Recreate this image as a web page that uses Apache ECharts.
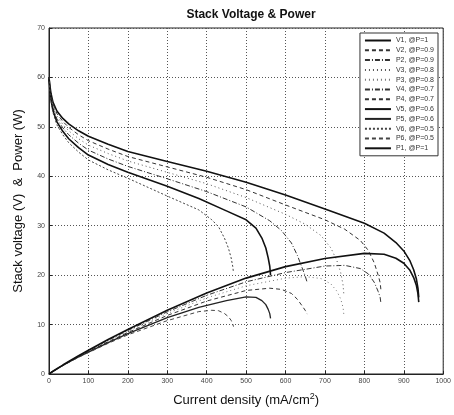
<!DOCTYPE html>
<html><head><meta charset="utf-8">
<script src="https://cdn.jsdelivr.net/npm/echarts@6/dist/echarts.min.js"></script>
<style>html,body{margin:0;padding:0;background:#fff}#c{width:454px;height:415px}</style>
</head><body><div id="c"></div>
<script>
// ---- data ----
const xTicks = [0,100,200,300,400,500,600,700,800,900,1000];
const yTicks = [0,10,20,30,40,50,60,70];

const v1x = [0,2,5,10,20,35,50,75,100,150,200,300,400,500,600,700,800,850,880,900,915,925,932,936,938];
const v1y = [60,58.5,56.8,55,53.2,51.7,50.6,49.2,48.1,46.5,45,43,41,38.8,36.2,33.4,30.5,28.5,26.6,24.9,23,21.1,19.2,17.3,15.5];
const p1y = [0,0.12,0.28,0.55,1.06,1.81,2.53,3.69,4.81,6.98,9.0,12.9,16.4,19.4,21.72,23.38,24.4,24.23,23.41,22.41,21.05,19.52,17.89,16.19,14.54];

const v2x = [0,2,5,10,20,35,50,75,100,150,200,300,400,500,600,700,750,790,810,825,835,840,842];
const v2y = [60,58.3,56.4,54.6,52.7,51.1,49.9,48.4,47.2,45.5,44,41.9,39.8,37.3,34.2,31.2,29.3,27,25,22.5,20,18.5,17];
const p2y = [0,0.12,0.28,0.55,1.05,1.79,2.5,3.63,4.72,6.83,8.8,12.57,15.92,18.65,20.52,21.84,21.98,21.33,20.25,18.56,16.7,15.54,14.31];

const v3x = [0,2,5,10,20,35,50,75,100,150,200,300,400,500,600,650,690,715,730,740,746,748];
const v3y = [60,58.1,56.1,54.2,52.2,50.5,49.2,47.6,46.3,44.6,43.1,40.8,38.5,35.7,32.3,30.3,28,25.5,23,20.5,18,16];
const p3y = [0,0.12,0.28,0.54,1.04,1.77,2.46,3.57,4.63,6.69,8.62,12.24,15.4,17.85,19.38,19.7,19.32,18.23,16.79,15.17,13.43,11.97];

const v4x = [0,2,5,10,20,35,50,75,100,150,200,300,400,500,560,590,615,630,642,650,655];
const v4y = [60,57.9,55.8,53.8,51.6,49.8,48.4,46.7,45.3,43.5,42,39.5,36.9,33.8,31,29,26.5,24,21.5,19.8,18.5];
const p4y = [0,0.12,0.28,0.54,1.03,1.74,2.42,3.5,4.53,6.53,8.4,11.85,14.76,16.9,17.36,17.11,16.3,15.12,13.8,12.87,12.12];

const v5x = [0,2,5,10,20,35,50,75,100,150,200,300,380,450,500,525,540,550,556,560,562];
const v5y = [60,57.7,55.5,53.3,51,49.1,47.6,45.8,44.3,42.4,40.8,38,35.5,33,31.2,29.5,27.5,25.5,23.5,21.8,20];
const p5y = [0,0.12,0.28,0.53,1.02,1.72,2.38,3.44,4.43,6.36,8.16,11.4,13.49,14.85,15.6,15.49,14.85,14.03,13.07,12.21,11.24];

const v6x = [0,2,5,10,20,35,50,75,100,150,200,300,380,413,430,445,455,462,466,468];
const v6y = [60,57.5,55.2,52.9,50.4,48.4,46.8,44.9,43.3,41.3,39.6,36,33.2,31.2,29.8,27.5,25.5,23.5,21.8,20.5];
const p6y = [0,0.12,0.28,0.53,1.01,1.69,2.34,3.37,4.33,6.2,7.92,10.8,12.62,12.89,12.81,12.24,11.6,10.86,10.16,9.59];

const names = ['V1, @P=1','V2, @P=0.9','P2, @P=0.9','V3, @P=0.8','P3, @P=0.8','V4, @P=0.7','P4, @P=0.7','V5, @P=0.6','P5, @P=0.6','V6, @P=0.5','P6, @P=0.5','P1, @P=1'];

// ---- build ----
const zip = (xs, ys) => xs.map((x, i) => [x, ys[i]]);
const curves = [
  [names[0], v1x, v1y, 1.6, 'solid', '#111'],
  [names[1], v2x, v2y, 1, [4,3], '#333'],
  [names[2], v2x, p2y, 1, [5,2,1,2], '#333'],
  [names[3], v3x, v3y, 1, [1,3], '#555'],
  [names[4], v3x, p3y, 1, [1,3], '#777'],
  [names[5], v4x, v4y, 1, [5,2,1,2], '#333'],
  [names[6], v4x, p4y, 1, [4,3], '#333'],
  [names[7], v5x, v5y, 1.6, 'solid', '#111'],
  [names[8], v5x, p5y, 1.3, 'solid', '#222'],
  [names[9], v6x, v6y, 1, [2,2], '#444'],
  [names[10], v6x, p6y, 1, [4,3], '#444'],
  [names[11], v1x, p1y, 1.6, 'solid', '#111']
];
const series = curves.map(c => ({
  name: c[0], type: 'line', data: zip(c[1], c[2]), symbol: 'none', smooth: false,
  lineStyle: {width: c[3], type: c[4], color: c[5]}, itemStyle: {color: c[5]}, animation: false
}));

const font = 'Liberation Sans, Arial, sans-serif';
const chart = echarts.init(document.getElementById('c'), null, {renderer: 'canvas'});
chart.setOption({
  animation: false,
  backgroundColor: '#fff',
  title: {text: 'Stack Voltage & Power', left: 246, textAlign: 'center', top: 4,
    textStyle: {fontFamily: font, fontSize: 12, fontWeight: 'bold', color: '#111'}},
  grid: {left: 49, right: 8, top: 28, bottom: 41, show: true, borderColor: '#222', borderWidth: 1},
  legend: {
    data: names, orient: 'vertical', right: 16, top: 33, itemWidth: 26, itemHeight: 8, itemGap: 2.8,
    backgroundColor: '#fff', borderColor: '#333', borderWidth: 1, padding: [4, 4, 4, 4],
    itemStyle: {opacity: 0},
    textStyle: {fontFamily: font, fontSize: 7, color: '#333'}
  },
  xAxis: {
    type: 'value', min: xTicks[0], max: xTicks[xTicks.length-1], interval: 100,
    name: 'Current density (mA/cm{s|2})', nameLocation: 'middle', nameGap: 18,
    nameTextStyle: {fontFamily: font, fontSize: 13, color: '#111', rich: {s: {fontSize: 9, verticalAlign: 'top', padding: [0,0,8,0], fontFamily: font, color: '#111'}}},
    axisLine: {show: true, lineStyle: {color: '#222'}},
    axisTick: {show: true, inside: true, length: 3, lineStyle: {color: '#222'}},
    axisLabel: {fontFamily: font, fontSize: 7, color: '#444', margin: 4, formatter: v => String(v)},
    splitLine: {show: true, lineStyle: {color: '#555', type: [1,2], width: 1}}
  },
  yAxis: {
    type: 'value', min: yTicks[0], max: yTicks[yTicks.length-1], interval: 10,
    name: 'Stack voltage (V)  &  Power (W)', nameLocation: 'middle', nameGap: 24,
    nameTextStyle: {fontFamily: font, fontSize: 13, color: '#111'},
    axisLine: {show: true, lineStyle: {color: '#222'}},
    axisTick: {show: true, inside: true, length: 3, lineStyle: {color: '#222'}},
    axisLabel: {fontFamily: font, fontSize: 7, color: '#444', margin: 4, formatter: v => String(v)},
    splitLine: {show: true, lineStyle: {color: '#555', type: [1,2], width: 1}}
  },
  series: series
});
</script></body></html>
